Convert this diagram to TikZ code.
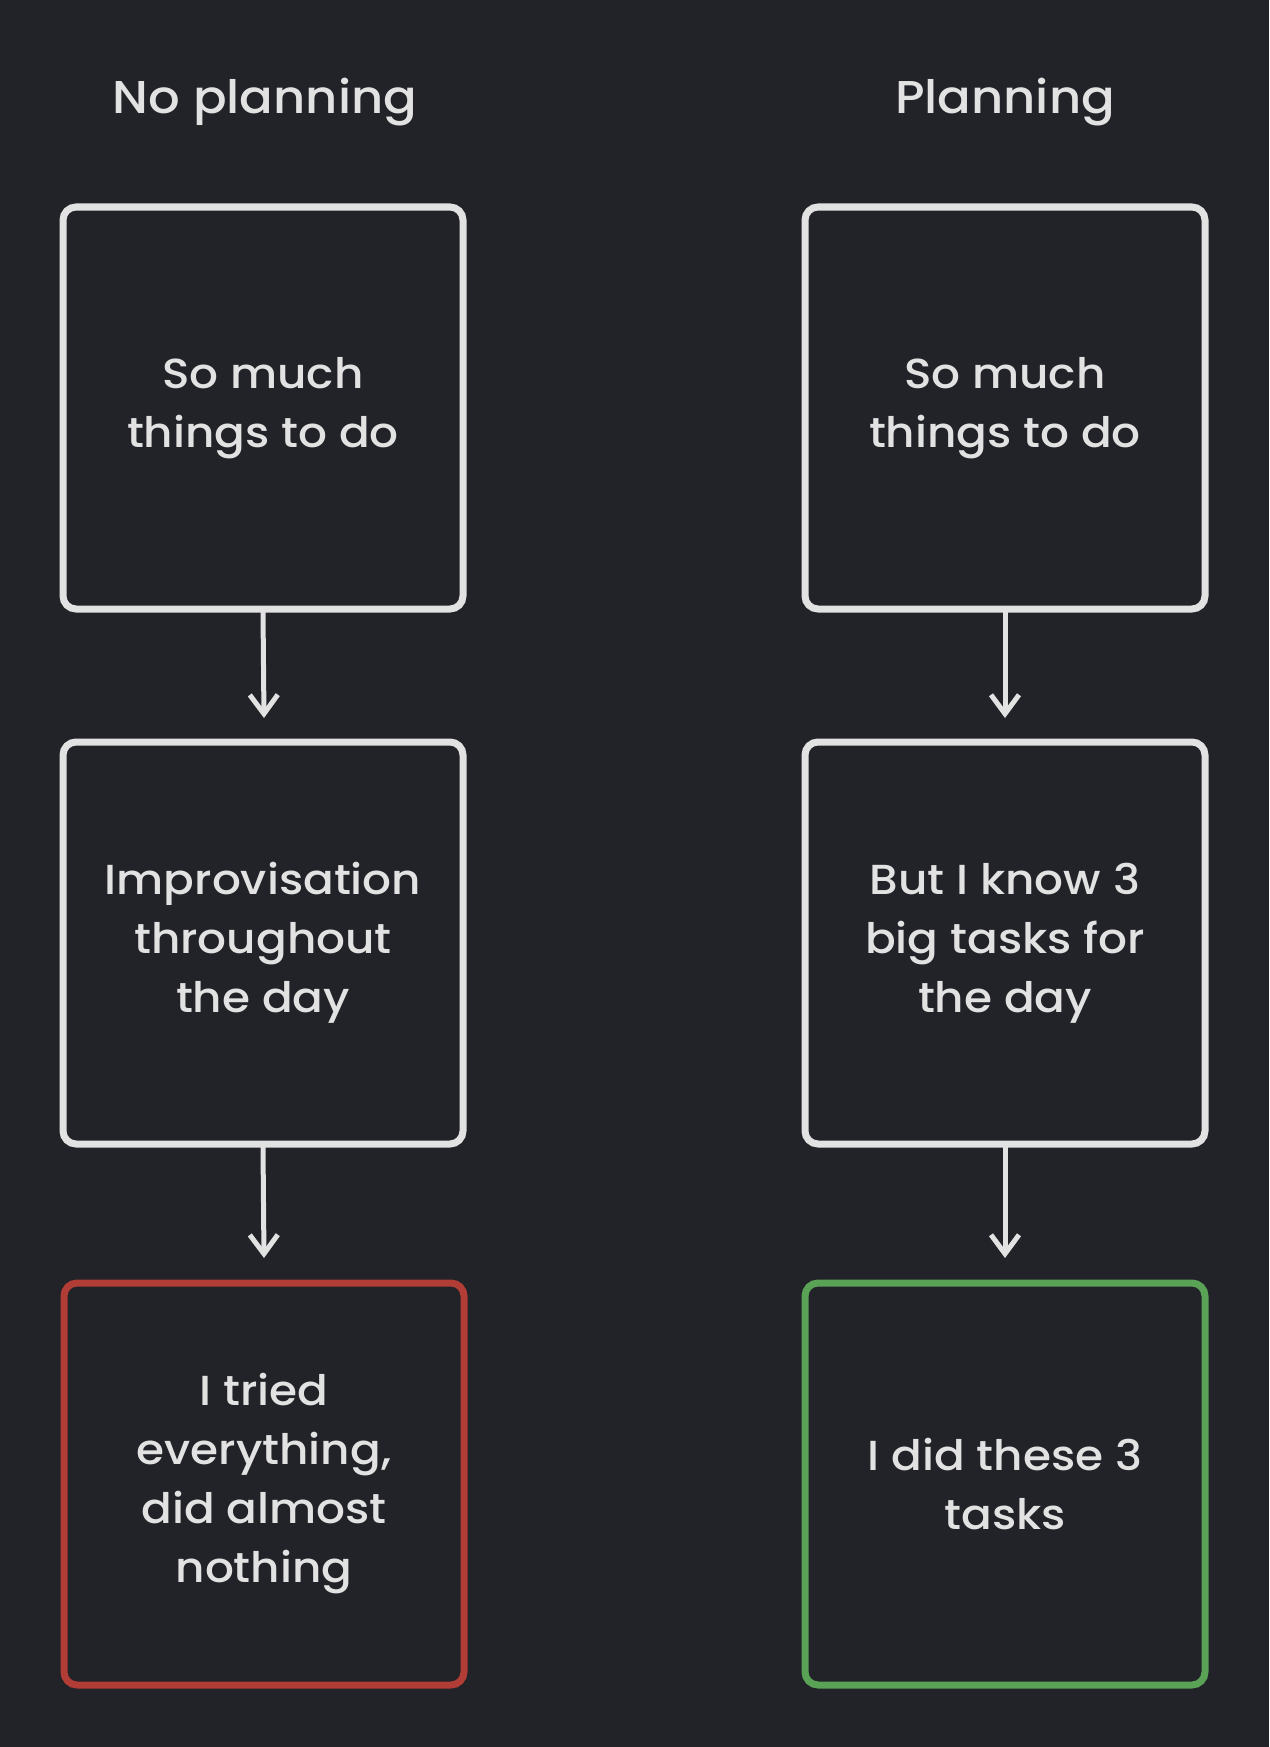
\documentclass[tikz,border=0pt]{standalone}
\usepackage{fontspec}
\setmainfont{Poppins}[UprightFont={* Medium}, FakeStretch=1.08]
\usetikzlibrary{arrows.meta}
\definecolor{bg}{HTML}{212328}
\definecolor{ink}{HTML}{E2E2E2}
\definecolor{redbox}{HTML}{B23C36}
\definecolor{greenbox}{HTML}{5AA255}
\tikzset{
  card/.style={draw=ink, line width=7pt, rounded corners=13pt, inner sep=0pt,
    minimum width=400pt, minimum height=402pt, text=ink, align=center,
    font=\fontsize{42}{59}\selectfont},
  head/.style={text=ink, font=\fontsize{46}{52}\selectfont, inner sep=0pt},
  flow/.style={draw=ink, line width=5pt, line cap=round,
    -{Straight Barb[length=19pt, width=28pt, line width=5pt]}}
}
\begin{document}
\begin{tikzpicture}[x=1pt, y=-1pt]
\fill[bg] (0,0) rectangle (1269,1747);
\useasboundingbox (0,0) rectangle (1269,1747);

\node[head, anchor=base] (h1) at (265,114) {No planning};
\node[head, anchor=base] (h2) at (1005,114) {Planning};

\node[card] (a1) at (263,408) {So much\\things to do};
\node[card] (a2) at (263,943) {Improvisation\\throughout\\the day};
\node[card, draw=redbox] (a3) at (264,1484) {I tried\\everything,\\did almost\\nothing};

\node[card] (b1) at (1005,408) {So much\\things to do};
\node[card] (b2) at (1005,943) {But I know 3\\big tasks for\\the day};
\node[card, draw=greenbox] (b3) at (1005,1484) {I did these 3\\tasks};

\coordinate (t1) at (264,718);
\coordinate (t2) at (264,1258);
\coordinate (t3) at (1005,718);
\coordinate (t4) at (1005,1258);
\draw[flow] (a1.south) -- (t1);
\draw[flow] (a2.south) -- (t2);
\draw[flow] (b1.south) -- (t3);
\draw[flow] (b2.south) -- (t4);
\end{tikzpicture}
\end{document}
